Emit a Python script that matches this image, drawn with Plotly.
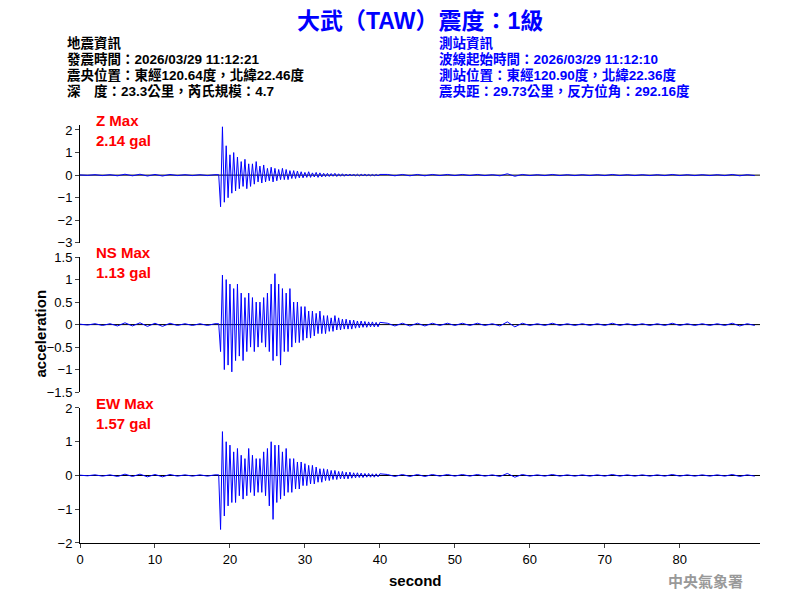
import numpy as np
import plotly.graph_objects as go

dt_event = 0.25
t_event_start = 18.5
z_event = [0.02,-1.4,2.14,-1.2,1.3,-1.0,0.9,-0.8,1.0,-0.7,0.8,-0.6,0.6,-0.5,0.7,-0.6,0.5,-0.5,0.5,-0.4,0.6,-0.3,0.4,-0.35,0.45,-0.3,0.3,-0.25,0.35,-0.3,0.3,-0.25,0.25,-0.2,0.3,-0.2,0.25,-0.2,0.2,-0.15,0.2,-0.15,0.18,-0.12,0.15,-0.12,0.12,-0.1,0.15,-0.1,0.1,-0.08,0.12,-0.1,0.1,-0.08,0.08,-0.07,0.08,-0.06,0.07,-0.05,0.08,-0.06,0.06,-0.05,0.06,-0.05,0.05,-0.04,0.05,-0.04,0.05,-0.04,0.04,-0.04,0.04,-0.03,0.04,-0.03,0.03,-0.03,0.03,-0.03,0.03,-0.03,0.03]
ns_event = [0.02,-0.6,1.1,-1.0,1.0,-0.9,0.9,-1.05,0.8,-0.8,0.9,-0.7,0.7,-0.8,0.6,-0.6,0.7,-0.5,0.6,-0.6,0.5,-0.5,0.5,-0.4,0.6,-0.5,0.7,-0.6,0.9,-0.8,1.13,-0.7,0.9,-0.9,0.8,-0.6,0.7,-0.6,0.8,-0.5,0.5,-0.4,0.5,-0.4,0.4,-0.35,0.4,-0.3,0.3,-0.3,0.3,-0.25,0.25,-0.2,0.3,-0.2,0.2,-0.2,0.2,-0.15,0.15,-0.15,0.2,-0.12,0.15,-0.12,0.12,-0.1,0.12,-0.1,0.1,-0.1,0.1,-0.08,0.08,-0.07,0.08,-0.06,0.07,-0.06,0.06,-0.05,0.06,-0.05,0.05,-0.05,0.05]
ew_event = [0.02,-1.6,1.3,-1.2,1.0,-0.9,0.9,-0.8,0.7,-0.8,0.8,-0.6,0.6,-0.7,0.5,-0.6,0.8,-0.5,0.6,-0.6,0.5,-0.5,0.5,-0.5,0.7,-0.6,0.8,-0.9,1.0,-1.3,0.9,-0.8,0.9,-0.7,0.7,-0.6,0.8,-0.5,0.5,-0.5,0.5,-0.4,0.4,-0.4,0.4,-0.3,0.35,-0.3,0.3,-0.25,0.3,-0.25,0.25,-0.2,0.2,-0.2,0.2,-0.15,0.18,-0.15,0.15,-0.12,0.15,-0.12,0.12,-0.1,0.12,-0.1,0.1,-0.1,0.1,-0.08,0.08,-0.07,0.08,-0.06,0.07,-0.06,0.06,-0.05,0.06,-0.05,0.05,-0.05,0.05,-0.04,0.05]

pre_noise = [0.01,-0.01,0.02,-0.02,0.02,-0.03,0.04,-0.03,0.04,-0.04,0.03,-0.04,0.03,-0.02,0.02,-0.02,0.02,-0.02,0.02]
post_noise = [0.03,-0.03,0.03,-0.03,0.03,-0.03,0.03,-0.02,0.03,-0.02,0.03,-0.02,0.03,-0.02,0.02,-0.03,0.06,-0.05,0.03,-0.02,0.02,-0.02,0.03,-0.02,0.02,-0.02,0.02,-0.02,0.02,-0.02,0.03,-0.02,0.02,-0.02,0.02,-0.02,0.02,-0.02,0.03,-0.02,0.02,-0.02,0.02,-0.02,0.02,-0.02,0.03,-0.03,0.02,-0.02]

left_lines = ["地震資訊", "發震時間：2026/03/29 11:12:21", "震央位置：東經120.64度，北緯22.46度", "深　度：23.3公里，芮氏規模：4.7"]
right_lines = ["測站資訊", "波線起始時間：2026/03/29 11:12:10", "測站位置：東經120.90度，北緯22.36度", "震央距：29.73公里，反方位角：292.16度"]

channels = [("Z Max", "2.14 gal", z_event, [-3, 2.22], [-3,-2,-1,0,1,2]),
            ("NS Max", "1.13 gal", ns_event, [-1.5, 1.5], [-1.5,-1,-0.5,0,0.5,1,1.5]),
            ("EW Max", "1.57 gal", ew_event, [-2, 2], [-2,-1,0,1,2])]
domains = [[0.718, 1.0], [0.361, 0.684], [0.0, 0.323]]
x_end = 90.7
H_PLOT = 418

fig = go.Figure()
ann = []
for i, (lab, mx, ev, rng, tv) in enumerate(channels):
    n = i + 1
    t = np.concatenate([np.arange(len(pre_noise)) * 1.0,
                        t_event_start + np.arange(len(ev)) * dt_event,
                        41 + np.arange(len(post_noise)) * 1.0])
    y = np.concatenate([pre_noise, ev, post_noise])
    xa = "x" if n == 1 else f"x{n}"
    ya = "y" if n == 1 else f"y{n}"
    fig.add_trace(go.Scatter(x=[0, x_end], y=[0, 0], mode="lines", line=dict(color="black", width=1),
                             xaxis=xa, yaxis=ya, hoverinfo="skip"))
    fig.add_trace(go.Scatter(x=t, y=y, mode="lines", line=dict(color="blue", width=1),
                             xaxis=xa, yaxis=ya))
    fig.layout[f"yaxis{'' if n==1 else n}"] = dict(domain=domains[i], range=rng, tickvals=tv,
        showline=True, linecolor="black", ticks="outside", ticklen=4, showgrid=False, zeroline=False,
        anchor=xa, tickfont=dict(size=13, color="black"))
    fig.layout[f"xaxis{'' if n==1 else n}"] = dict(range=[0, x_end], anchor=ya, showgrid=False, zeroline=False,
        showline=(n == 3), linecolor="black", ticks="outside" if n == 3 else "", ticklen=4,
        showticklabels=(n == 3), tickvals=[0,10,20,30,40,50,60,70,80], tickfont=dict(size=13, color="black"),
        matches="x3" if n != 3 else None)
    ann.append(dict(x=0.02, y=domains[i][1], yshift=15, xref="paper", yref="paper", xanchor="left", yanchor="top",
                    text=f"<b>{lab}</b><br><b>{mx}</b>", showarrow=False, align="left",
                    font=dict(size=15, color="red", family="Liberation Sans")))

cjk = "Liberation Sans, Noto Sans CJK TC"
row_y = [43, 59, 75, 91]
for lines, x0, col in [(left_lines, 65, "black"), (right_lines, 437, "blue")]:
    for s, yy in zip(lines, row_y):
        ann.append(dict(x=(x0 - 80) / 680, y=1 + (117 - (yy - 8)) / H_PLOT, xref="paper", yref="paper",
                        xanchor="left", yanchor="middle", text=f"<b>{s}</b>", showarrow=False,
                        font=dict(size=13.5, color=col, family=cjk)))
ann += [
    dict(x=0.5, y=1 + (117 - 13) / H_PLOT, xref="paper", yref="paper", yanchor="middle",
         text="<b>大武（TAW）震度：1級</b>", showarrow=False, font=dict(size=23, color="blue", family=cjk)),
    dict(x=-0.075, y=0.5, xref="paper", yref="paper", text="<b>acceleration</b>", textangle=-90, showarrow=False,
         font=dict(size=15, color="black", family="Liberation Sans")),
    dict(x=(415 - 80) / 680, y=-(580 - 543) / H_PLOT, xref="paper", yref="paper", text="<b>second</b>",
         showarrow=False, yanchor="middle", font=dict(size=15, color="black", family="Liberation Sans")),
    dict(x=(745 - 80) / 680, y=-(580 - 543) / H_PLOT, xref="paper", yref="paper", text="<b>中央氣象署</b>",
         showarrow=False, xanchor="right", yanchor="middle",
         font=dict(size=15, color="#999999", family="Noto Sans CJK TC")),
]
fig.update_layout(width=800, height=600, margin=dict(l=72, r=48, t=117, b=65), showlegend=False,
                  plot_bgcolor="white", paper_bgcolor="white", annotations=ann,
                  font=dict(family="Liberation Sans"))
fig.write_html("out.html")
